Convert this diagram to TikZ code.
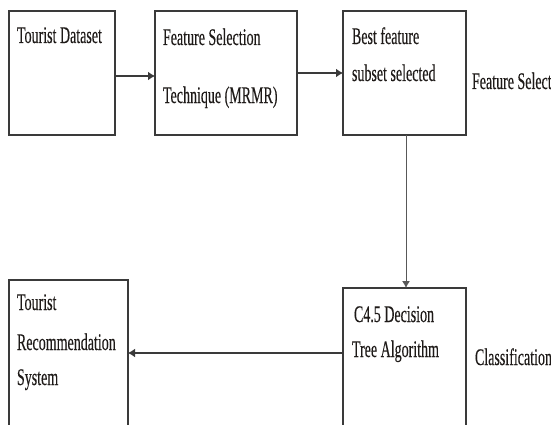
\documentclass[tikz,border=0pt]{standalone}
\usepackage{fontspec}
\usepackage{graphicx}
\setmainfont{Liberation Serif}[FakeBold=0.3]
\usetikzlibrary{arrows.meta}
\definecolor{edgegray}{HTML}{3A3A3A}
\definecolor{txtcol}{HTML}{1E1A18}
\newcommand{\stretchtxt}[1]{\scalebox{1}[1.7]{#1}}
\tikzset{
  box/.style={draw=edgegray, line width=1.5pt, inner sep=0pt, outer sep=0pt, fill=white},
  lbl/.style={anchor=base west, inner sep=0pt, outer sep=0pt, text=txtcol,
              font=\fontsize{14}{16}\selectfont},
  arr/.style={draw=edgegray, line width=1.5pt, -{Latex[length=7pt,width=9pt]}},
  thinarr/.style={draw=edgegray!85, line width=1pt, -{Latex[length=7pt,width=8pt]}}
}
\begin{document}
\begin{tikzpicture}[x=1pt,y=-1pt]
\useasboundingbox (0,0) rectangle (551,425);
\clip (0,0) rectangle (551,425);
\fill[white] (0,0) rectangle (551,425);

% boxes
\node[box, minimum width=106pt, minimum height=124pt] (b1) at (62,73) {};
\node[box, minimum width=142pt, minimum height=124pt] (b2) at (226,73) {};
\node[box, minimum width=123pt, minimum height=124pt] (b3) at (404.5,73) {};
\node[box, minimum width=123pt, minimum height=152pt] (b4) at (404.5,364) {};
\node[box, minimum width=119pt, minimum height=160pt] (b5) at (68.5,360) {};

% texts
\node[lbl] (t1) at (17,43) {\stretchtxt{Tourist Dataset}};
\node[lbl] (t2a) at (163,45) {\stretchtxt{Feature Selection}};
\node[lbl] (t2b) at (163,103) {\stretchtxt{Technique (MRMR)}};
\node[lbl] (t3a) at (352,44) {\stretchtxt{Best feature}};
\node[lbl] (t3b) at (352,81) {\stretchtxt{subset selected}};
\node[lbl] (t4a) at (354,322) {\stretchtxt{C4.5 Decision}};
\node[lbl] (t4b) at (352,357) {\stretchtxt{Tree Algorithm}};
\node[lbl] (t5a) at (17,310) {\stretchtxt{Tourist}};
\node[lbl] (t5b) at (17,350) {\stretchtxt{Recommendation}};
\node[lbl] (t5c) at (17,385) {\stretchtxt{System}};
\node[lbl] (l1) at (472,89) {\stretchtxt{Feature Selection}};
\node[lbl] (l2) at (475,365) {\stretchtxt{Classification}};

% connectors
\draw[arr] ([yshift=-3pt]b1.east) -- ([yshift=-3pt]b2.west);
\draw[arr] (b2.east) -- (b3.west);
\draw[thinarr] ([xshift=1.5pt]b3.south) -- ([xshift=1.5pt]b4.north);
\draw[arr] (b4.west |- 0,353) -- (b5.east |- 0,353);
\end{tikzpicture}
\end{document}
